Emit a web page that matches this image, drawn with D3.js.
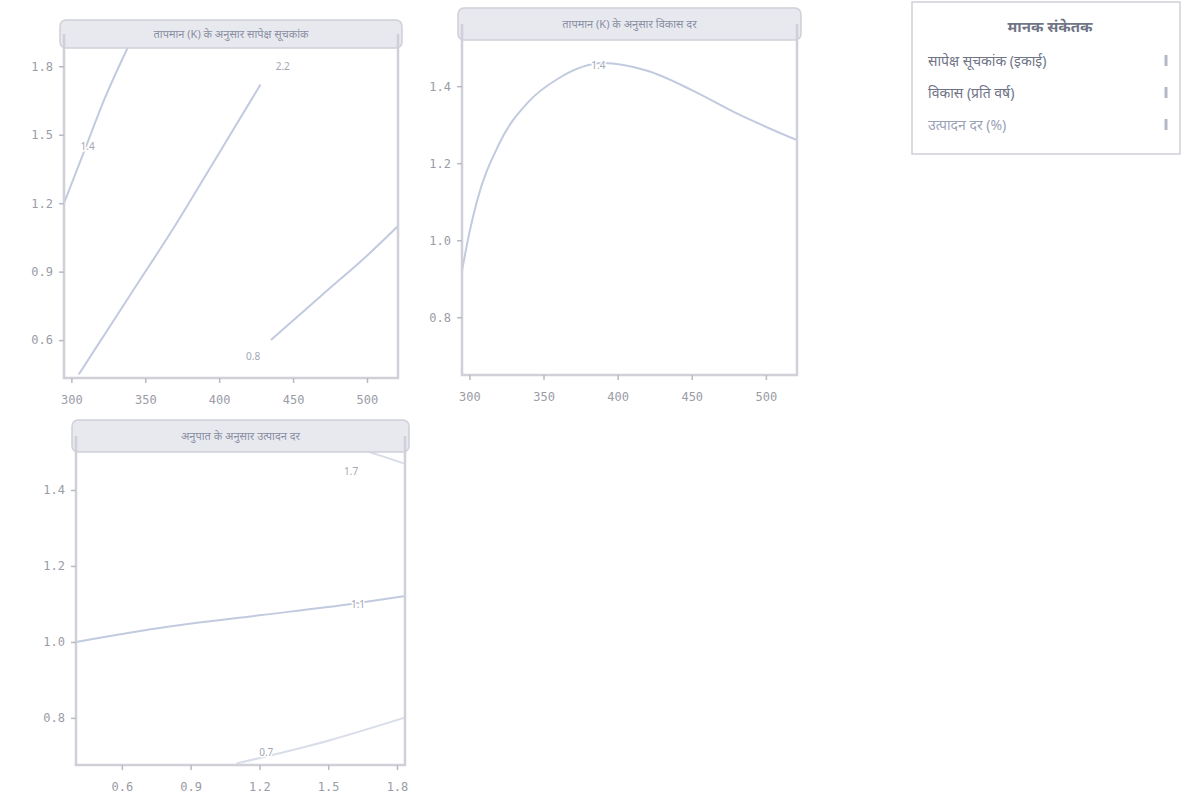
<!DOCTYPE html>
<html>
<head>
<meta charset="utf-8">
<script src="https://cdn.jsdelivr.net/npm/d3@7"></script>
<style>
  body { margin: 0; background: #fff; }
  svg { display: block; font-family: "Noto Sans", "DejaVu Sans", sans-serif; }
</style>
</head>
<body>
<svg id="chart" width="1186" height="805"></svg>
<script>
// Panel titles
const panelTitles = [
  "तापमान (K) के अनुसार सापेक्ष सूचकांक",
  "तापमान (K) के अनुसार विकास दर",
  "अनुपात के अनुसार उत्पादन दर"
];

// Tick values per panel
const xTicks1 = [300, 350, 400, 450, 500];
const yTicks1 = [0.6, 0.9, 1.2, 1.5, 1.8];
const xTicks2 = [300, 350, 400, 450, 500];
const yTicks2 = [0.8, 1.0, 1.2, 1.4];
const xTicks3 = [0.6, 0.9, 1.2, 1.5, 1.8];
const yTicks3 = [0.8, 1.0, 1.2, 1.4];

// Panel 1 curves
const p1LineA = [[295, 1.2], [310, 1.45], [322, 1.65], [338, 1.88]];
const p1LineB = [[305, 0.45], [340, 0.8], [370, 1.1], [400, 1.42], [428, 1.72]];
const p1LineC = [[435, 0.6], [470, 0.8], [500, 0.97], [521, 1.1]];
// Panel 2 curve
const p2Line = [[295, 0.92], [300, 1.02], [305, 1.1], [320, 1.25], [340, 1.36], [360, 1.42],
                [390, 1.46], [420, 1.44], [450, 1.39], [480, 1.33], [521, 1.26]];
// Panel 3 curves
const p3LineA = [[0.4, 1.0], [0.8, 1.04], [1.2, 1.07], [1.6, 1.1], [1.83, 1.12]];
const p3LineB = [[1.68, 1.5], [1.83, 1.47]];
const p3LineC = [[1.1, 0.68], [1.5, 0.74], [1.83, 0.8]];

// Curve labels: [x, y, text]
const p1Labels = [[311, 1.45, "1.4"], [443, 1.8, "2.2"], [423, 0.53, "0.8"]];
const p2Labels = [[387, 1.455, "1.4"]];
const p3Labels = [[1.6, 1.45, "1.7"], [1.63, 1.1, "1.1"], [1.23, 0.71, "0.7"]];

// Legend
const legendTitle = "मानक संकेतक";
const legendItems = ["सापेक्ष सूचकांक (इकाई)", "विकास (प्रति वर्ष)", "उत्पादन दर (%)"];

const svg = d3.select("#chart");
const lineColor = "#c2cadf";
const faintColor = "#d8dde9";
const frameColor = "#cfd0d8";

function panel(cfg) {
  const { left, right, top, stripH, bottom, xDomain, yDomain, xTicks, yTicks, xFmt, yFmt, title, lines, labels } = cfg;
  const plotTop = top + stripH;
  const x = d3.scaleLinear().domain(xDomain).range([left, right]);
  const y = d3.scaleLinear().domain(yDomain).range([bottom, plotTop]);
  const g = svg.append("g");

  // clip region for curves
  const clipId = "clip" + Math.round(left) + "_" + Math.round(top);
  svg.append("clipPath").attr("id", clipId)
    .append("rect").attr("x", left).attr("y", top).attr("width", right - left).attr("height", bottom - top);

  const line = d3.line().curve(d3.curveMonotoneX).x(d => x(d[0])).y(d => y(d[1]));
  const cg = g.append("g").attr("clip-path", `url(#${clipId})`);
  lines.forEach(l => {
    cg.append("path").attr("d", line(l.pts)).attr("fill", "none")
      .attr("stroke", l.faint ? faintColor : lineColor).attr("stroke-width", 2);
  });

  // strip header
  g.append("rect").attr("x", left - 4).attr("y", top).attr("width", right - left + 8).attr("height", stripH)
    .attr("rx", 6).attr("fill", "#e7e9ef").attr("stroke", frameColor).attr("stroke-width", 1.5);
  g.append("text").attr("x", (left + right) / 2).attr("y", top + stripH / 2 + 4)
    .attr("text-anchor", "middle").attr("font-size", 11).attr("fill", "#8a8fa3").text(title);

  // frame
  g.append("path")
    .attr("d", `M${left},${top + stripH / 2}V${bottom}H${right}V${top + stripH / 2}`)
    .attr("fill", "none").attr("stroke", frameColor).attr("stroke-width", 2.5);

  // axes
  const xa = g.append("g").attr("transform", `translate(0,${bottom})`)
    .call(d3.axisBottom(x).tickValues(xTicks).tickFormat(xFmt).tickSize(5).tickPadding(12));
  const ya = g.append("g").attr("transform", `translate(${left},0)`)
    .call(d3.axisLeft(y).tickValues(yTicks).tickFormat(yFmt).tickSize(5).tickPadding(6));
  [xa, ya].forEach(a => {
    a.select(".domain").remove();
    a.selectAll("line").attr("stroke", "#b8bac4").attr("stroke-width", 1.5);
    a.selectAll("text").attr("fill", "#9a9ca6").attr("font-size", 12)
      .attr("font-family", "DejaVu Sans Mono, monospace");
  });

  labels.forEach(l => {
    g.append("text").attr("x", x(l[0])).attr("y", y(l[1]) + 4)
      .attr("text-anchor", "middle").attr("font-size", 10).attr("fill", "#a4a7b3")
      .attr("paint-order", "stroke").attr("stroke", "#fff").attr("stroke-width", 3)
      .text(l[2]);
  });
}

panel({
  left: 64, right: 398, top: 20, stripH: 28, bottom: 378,
  xDomain: [295, 521], yDomain: [0.434, 1.88],
  xTicks: xTicks1, yTicks: yTicks1, xFmt: d3.format("d"), yFmt: d3.format(".1f"),
  title: panelTitles[0],
  lines: [{ pts: p1LineA }, { pts: p1LineB }, { pts: p1LineC }], labels: p1Labels
});
panel({
  left: 462, right: 797, top: 8, stripH: 32, bottom: 375,
  xDomain: [295, 521], yDomain: [0.65, 1.52],
  xTicks: xTicks2, yTicks: yTicks2, xFmt: d3.format("d"), yFmt: d3.format(".1f"),
  title: panelTitles[1], lines: [{ pts: p2Line }], labels: p2Labels
});
panel({
  left: 76, right: 405, top: 420, stripH: 32, bottom: 765,
  xDomain: [0.40, 1.835], yDomain: [0.676, 1.5],
  xTicks: xTicks3, yTicks: yTicks3, xFmt: d3.format(".1f"), yFmt: d3.format(".1f"),
  title: panelTitles[2],
  lines: [{ pts: p3LineA }, { pts: p3LineB, faint: true }, { pts: p3LineC, faint: true }], labels: p3Labels
});

// legend
const lg = svg.append("g");
lg.append("rect").attr("x", 912).attr("y", 2).attr("width", 268).attr("height", 152)
  .attr("fill", "#fff").attr("stroke", frameColor).attr("stroke-width", 1.5);
lg.append("text").attr("x", 1050).attr("y", 32).attr("text-anchor", "middle")
  .attr("font-size", 15).attr("font-weight", "bold").attr("fill", "#6f7486").text(legendTitle);
legendItems.forEach((t, i) => {
  const yy = 66 + i * 32;
  lg.append("text").attr("x", 928).attr("y", yy).attr("font-size", 14)
    .attr("fill", i === 2 ? "#9ba1b6" : "#6f7486").text(t);
  lg.append("path").attr("d", `M1166,${yy - 11}V${yy}`).attr("stroke", "#b4b8c6").attr("stroke-width", 3);
});
</script>
</body>
</html>
